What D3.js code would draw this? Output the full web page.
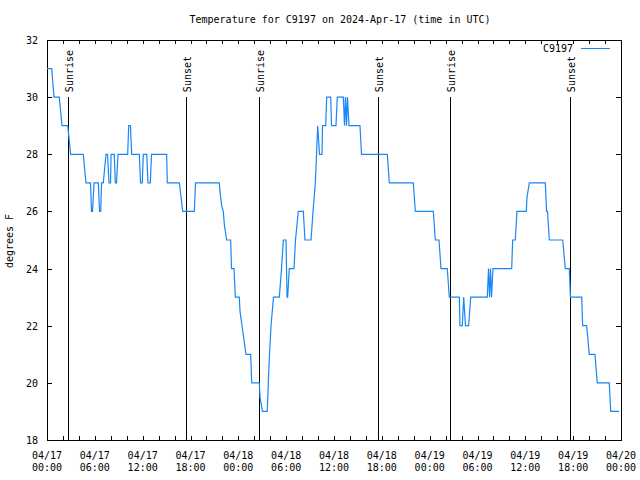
<!DOCTYPE html>
<html>
<head>
<meta charset="utf-8">
<script src="https://cdn.jsdelivr.net/npm/d3@7"></script>
<style>
  html, body { margin: 0; padding: 0; background: #fff; }
  svg { display: block; }
  text { font-family: "DejaVu Sans Mono", "Liberation Mono", monospace; font-size: 10px; fill: #000; }
</style>
</head>
<body>
<svg id="chart" width="640" height="480"></svg>
<script>
// ---- data (hours since 2024-04-17 00:00 UTC, temperature in °F) ----
const hours = [0, 0.59, 0.88, 1.54, 1.88, 2.60, 2.97, 4.55, 4.89, 5.46, 5.58, 5.71, 5.90, 6.44, 6.59, 6.74, 6.84, 7.06, 7.40, 7.59, 7.78, 7.97, 8.03, 8.44, 8.57, 8.72, 8.91, 10.12, 10.25, 10.47, 10.62, 11.58, 11.73, 11.95, 12.08, 12.51, 12.67, 12.96, 13.11, 15.01, 15.09, 16.60, 17.02, 18.48, 18.63, 21.61, 21.70, 21.91, 22.11, 22.26, 22.54, 23.04, 23.14, 23.46, 23.62, 24.12, 24.21, 24.46, 24.71, 24.96, 25.55, 25.68, 26.63, 26.72, 27.03, 27.63, 27.76, 27.91, 28.10, 28.41, 29.14, 29.42, 29.64, 29.98, 30.11, 30.19, 30.39, 30.98, 31.17, 31.52, 32.15, 32.36, 33.12, 33.37, 33.66, 33.81, 33.96, 34.18, 34.50, 34.56, 34.96, 35.08, 35.59, 35.69, 36.25, 36.41, 37.17, 37.32, 37.44, 37.57, 37.69, 37.88, 39.26, 39.45, 42.69, 42.94, 45.95, 46.20, 48.46, 48.71, 49.17, 49.42, 50.21, 50.46, 51.72, 51.80, 52.09, 52.27, 52.49, 52.89, 53.15, 55.23, 55.38, 55.51, 55.63, 55.76, 55.94, 58.29, 58.41, 58.74, 58.95, 60.12, 60.21, 60.50, 62.51, 62.66, 62.78, 63.01, 64.69, 64.85, 65.01, 65.51, 65.66, 67.07, 67.19, 67.69, 67.86, 68.02, 68.73, 69.02, 70.53, 70.71, 71.75];
const temps = [31, 31, 30, 30, 29, 29, 28, 28, 27, 27, 26, 26, 27, 27, 26, 26, 27, 27, 28, 28, 27, 27, 28, 28, 27, 27, 28, 28, 29, 29, 28, 28, 27, 27, 28, 28, 27, 27, 28, 28, 27, 27, 26, 26, 27, 27, 26.7, 26.2, 26, 25.5, 25, 25, 24, 24, 23, 23, 22.5, 22, 21.5, 21, 21, 20, 20, 19.5, 19, 19, 20, 21, 22, 23, 23, 24, 25, 25, 23, 23, 24, 24, 25, 26, 26, 25, 25, 26, 27, 28, 29, 28, 28, 29, 29, 30, 30, 29, 29, 30, 30, 29, 30, 29, 30, 29, 29, 28, 28, 27, 27, 26, 26, 25, 25, 24, 24, 23, 23, 22, 22, 23, 22, 22, 23, 23, 24, 23, 24, 23, 24, 24, 25, 25, 26, 26, 26.5, 27, 27, 26, 26, 25, 25, 24.5, 24, 24, 23, 23, 22, 22, 21.5, 21, 21, 20, 20, 19, 19];

const sunHours  = [2.67, 17.47, 26.63, 41.56, 50.59, 65.64];
const sunLabels = ["Sunrise", "Sunset", "Sunrise", "Sunset", "Sunrise", "Sunset"];

const yTicks = [18, 20, 22, 24, 26, 28, 30, 32];
const seriesName = "C9197";
const titleText = "Temperature for C9197 on 2024-Apr-17 (time in UTC)";
const yLabel = "degrees F";

// ---- layout ----
const t0 = Date.UTC(2024, 3, 17, 0, 0);
const toDate = h => new Date(t0 + h * 3600e3);
const L = 47, R = 621, T = 40, B = 440;
const lineColor = "#1a86f5";

const svg = d3.select("#chart");
const x = d3.scaleUtc().domain([toDate(0), toDate(72)]).range([L, R]);
const y = d3.scaleLinear().domain([18, 32]).range([B, T]);

// border
svg.append("rect").attr("x", L + 0.5).attr("y", T + 0.5)
  .attr("width", R - L).attr("height", B - T)
  .attr("fill", "none").attr("stroke", "#000").attr("stroke-width", 1);

// ticks (x every 2 hours, inward, mirrored)
const xMinor = d3.utcHour.every(2).range(toDate(0), toDate(72.01));
const xMajor = d3.utcHour.every(6).range(toDate(0), toDate(72.01));
const tk = 4;
const ticksG = svg.append("g").attr("stroke", "#000").attr("shape-rendering", "crispEdges");
xMinor.forEach(d => {
  const px = Math.round(x(d)) + 0.5;
  ticksG.append("line").attr("x1", px).attr("x2", px).attr("y1", B).attr("y2", B - tk);
  ticksG.append("line").attr("x1", px).attr("x2", px).attr("y1", T).attr("y2", T + tk);
});
yTicks.forEach(v => {
  const py = Math.round(y(v)) + 0.5;
  ticksG.append("line").attr("x1", L).attr("x2", L + tk + 1).attr("y1", py).attr("y2", py);
  ticksG.append("line").attr("x1", R).attr("x2", R - tk - 1).attr("y1", py).attr("y2", py);
});

// y tick labels
svg.append("g").selectAll("text").data(yTicks).join("text")
  .attr("x", 38).attr("y", d => y(d) + 4)
  .attr("text-anchor", "end").text(d => d);

// x tick labels (two lines)
const fmtDay = d3.utcFormat("%m/%d"), fmtTime = d3.utcFormat("%H:%M");
const xl = svg.append("g");
xMajor.forEach(d => {
  xl.append("text").attr("x", x(d)).attr("y", 459).attr("text-anchor", "middle").text(fmtDay(d));
  xl.append("text").attr("x", x(d)).attr("y", 471).attr("text-anchor", "middle").text(fmtTime(d));
});

// sunrise / sunset lines
const sunG = svg.append("g");
sunHours.forEach((h, i) => {
  const px = Math.round(x(toDate(h))) + 0.5;
  sunG.append("line").attr("x1", px).attr("x2", px)
    .attr("y1", y(30)).attr("y2", B)
    .attr("stroke", "#000").attr("stroke-width", 1).attr("shape-rendering", "crispEdges");
  sunG.append("text")
    .attr("transform", `translate(${px + 4.5},${y(30) - 5}) rotate(-90)`)
    .attr("text-anchor", "start").text(sunLabels[i]);
});

// data line
const pts = hours.map((h, i) => [toDate(h), temps[i]]);
svg.append("path").datum(pts)
  .attr("fill", "none").attr("stroke", lineColor).attr("stroke-width", 1.2)
  .attr("d", d3.line().x(d => x(d[0])).y(d => y(d[1])));

// legend
svg.append("text").attr("x", 573).attr("y", 52).attr("text-anchor", "end").text(seriesName);
svg.append("line").attr("x1", 581).attr("x2", 610).attr("y1", 48.5).attr("y2", 48.5)
  .attr("stroke", lineColor).attr("stroke-width", 1).attr("shape-rendering", "crispEdges");

// title
svg.append("text").attr("x", 340).attr("y", 23).attr("text-anchor", "middle").text(titleText);

// y axis label
svg.append("text").attr("transform", "translate(13,241) rotate(-90)")
  .attr("text-anchor", "middle").text(yLabel);
</script>
</body>
</html>
